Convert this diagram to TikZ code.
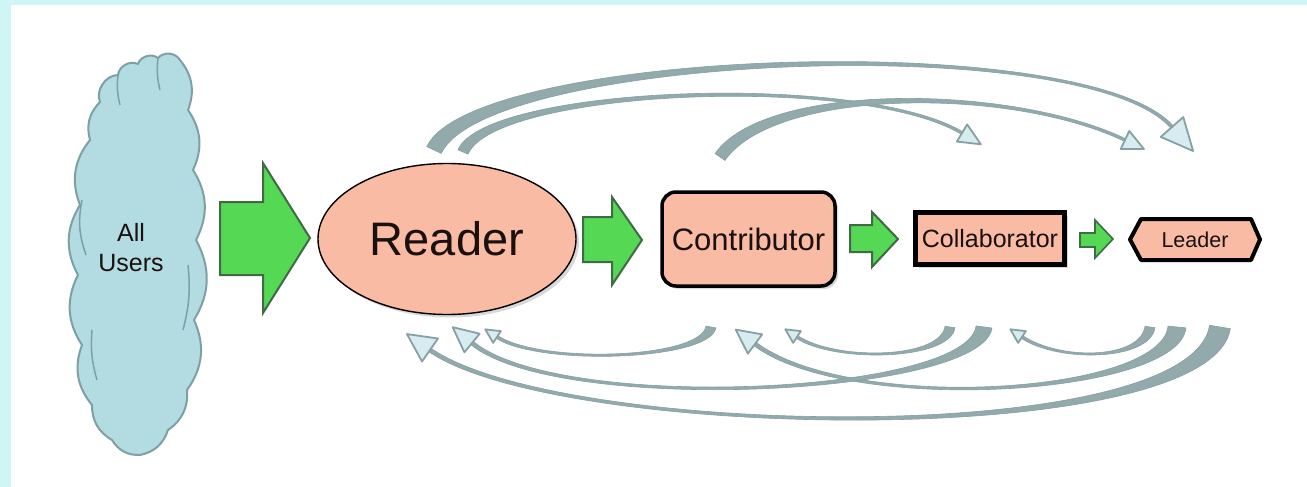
\documentclass[tikz,border=0pt]{standalone}
\usepackage{fontspec}
\setmainfont{Liberation Sans}
\usetikzlibrary{calc,shapes.geometric,shadows}
\definecolor{bgcyan}{HTML}{CFF5F5}
\definecolor{cloudfill}{HTML}{B2DCE2}
\definecolor{cloudline}{HTML}{7E9FA4}
\definecolor{salmon}{HTML}{F9BBA3}
\definecolor{grn}{HTML}{55D955}
\definecolor{grnline}{HTML}{3F6A45}
\definecolor{arcfill}{HTML}{93AAAD}
\definecolor{arcline}{HTML}{86A0A3}
\definecolor{headfill}{HTML}{D6ECF0}
\definecolor{txt}{HTML}{1A1010}
% #1 start, #2 ctrl1, #3 ctrl2, #4 end of shaft, #5 base half width,
% #6 end half width, #7 head length, #8 head half width
\newcommand{\tarrow}[8]{%
  \fill[arcfill,draw=arcline,line width=0.6pt]
    ($#1!#5!90:#2$) .. controls ($#2!#5!-90:#1$) and ($#3!#6!90:#4$) .. ($#4!#6!-90:#3$)
    -- ($#4!#6!90:#3$) .. controls ($#3!#6!-90:#4$) and ($#2!#5!90:#1$) .. ($#1!#5!-90:#2$) -- cycle;
  \draw[headstyle] ($#4!#8!90:#3$) -- ($#4!#7!180:#3$) -- ($#4!#8!-90:#3$) -- cycle;
}
\begin{document}
\begin{tikzpicture}[x=1pt,y=-1pt,
  headstyle/.style={fill=headfill,draw=arcline,line width=1.8pt,line join=round},
  greenarrow/.style={fill=grn,draw=grnline,line width=2pt,line join=miter},
  puff/.style={bend left=30},
  finger/.style={bend left=55},
  stagebox/.style={fill=salmon,draw=black,text=txt,inner sep=0pt,
    drop shadow={shadow xshift=3pt,shadow yshift=-3pt,opacity=0.3}}]
\useasboundingbox (0,0) rectangle (1307,487);
\fill[bgcyan] (0,0) rectangle (1307,487);
\fill[white] (11,5) rectangle (1307,487);

% cloud
\draw[fill=cloudfill,draw=cloudline,line width=2pt,line join=round]
  (90,140) to[puff] (100,102) to[finger] (118,75) to[finger] (138,64) to[finger] (158,58)
  to[finger] (180,60) to[puff] (188,110) to[puff] (193,170) to[puff] (196,240)
  to[puff] (194,320) to[puff] (187,390) to[puff] (168,430) to[puff] (140,455)
  to[puff] (112,440) to[puff] (92,405) to[puff] (82,345) to[puff] (78,275)
  to[puff] (80,205) to[puff] (90,140) -- cycle;
\draw[cloudline,line width=1.5pt] (118,75) to[bend right=10] (120,105);
\draw[cloudline,line width=1.5pt] (158,58) to[bend right=10] (160,90);
\draw[cloudline,line width=1.5pt] (82,200) to[bend right=15] (86,255);
\draw[cloudline,line width=1.5pt] (188,265) to[bend left=10] (183,330);
\draw[cloudline,line width=1.5pt] (92,330) to[bend right=10] (97,380);
\node[align=center, text=txt, inner sep=0pt, font=\fontsize{25}{30}\selectfont] (users) at (131,248) {All\\Users};

% stages
\node[stagebox, ellipse, line width=1.4pt, minimum width=258pt, minimum height=151pt,
  font=\fontsize{47}{50}\selectfont] (reader) at (447,239) {Reader};
\node[stagebox, rectangle, rounded corners=14pt, line width=3.5pt, minimum width=173pt,
  minimum height=94pt, font=\fontsize{31}{34}\selectfont] (contrib) at (748.5,239) {Contributor};
\node[stagebox, rectangle, line width=4.5pt, minimum width=149pt, minimum height=52pt,
  font=\fontsize{25}{28}\selectfont] (collab) at (990,238.5) {Collaborator};
\fill[salmon,draw=black,line width=4pt,line join=round]
  (1130,239.5) -- (1141,219) -- (1251,219) -- (1260,239.5) -- (1251,260) -- (1141,260) -- cycle;
\node[text=txt, inner sep=0pt, font=\fontsize{21.5}{24}\selectfont] (leader) at (1195,239.5) {Leader};

% green block arrows
\draw[greenarrow] (220,202) -- (263,202) -- (263,163) -- (310,238) -- (263,313) -- (263,275) -- (220,275) -- cycle;
\draw[greenarrow] (583,217) -- (612,217) -- (612,197) -- (642,240) -- (612,285) -- (612,262) -- (583,262) -- cycle;
\draw[greenarrow] (850,225) -- (872,225) -- (872,212) -- (898,239) -- (872,267) -- (872,252) -- (850,252) -- cycle;
\draw[greenarrow,line width=1.6pt] (1080,233) -- (1095,233) -- (1095,220) -- (1113,239) -- (1095,258) -- (1095,247) -- (1080,247) -- cycle;

% forward arcs (top)
\coordinate (a1s) at (434,150); \coordinate (a1c) at (480,52);
\coordinate (a1d) at (1085,28); \coordinate (a1e) at (1172,127);
\coordinate (a2s) at (463,152); \coordinate (a2c) at (490,88);
\coordinate (a2d) at (860,72);  \coordinate (a2e) at (962,133);
\coordinate (a3s) at (720,157); \coordinate (a3c) at (770,85);
\coordinate (a3d) at (1010,85); \coordinate (a3e) at (1125,140);
\tarrow{(a1s)}{(a1c)}{(a1d)}{(a1e)}{8pt}{1.6pt}{32pt}{15pt}
\tarrow{(a2s)}{(a2c)}{(a2d)}{(a2e)}{5.5pt}{1.4pt}{22pt}{10pt}
\tarrow{(a3s)}{(a3c)}{(a3d)}{(a3e)}{6pt}{1.4pt}{21pt}{10pt}

% backward arcs (bottom)
\coordinate (b1s) at (711,327); \coordinate (b1c) at (705,360);
\coordinate (b1d) at (540,365); \coordinate (b1e) at (497,337);
\coordinate (b2s) at (950,327); \coordinate (b2c) at (945,360);
\coordinate (b2d) at (835,362); \coordinate (b2e) at (797,337);
\coordinate (b3s) at (1150,327); \coordinate (b3c) at (1145,360);
\coordinate (b3d) at (1060,362); \coordinate (b3e) at (1022,337);
\coordinate (b4s) at (984,327); \coordinate (b4c) at (975,395);
\coordinate (b4d) at (560,415); \coordinate (b4e) at (472,343);
\coordinate (b5s) at (1177,327); \coordinate (b5c) at (1170,395);
\coordinate (b5d) at (850,415); \coordinate (b5e) at (755,344);
\coordinate (b6s) at (1220,327); \coordinate (b6c) at (1200,450);
\coordinate (b6d) at (560,440); \coordinate (b6e) at (430,350);
\tarrow{(b6s)}{(b6c)}{(b6d)}{(b6e)}{10.5pt}{2pt}{28pt}{14pt}
\tarrow{(b5s)}{(b5c)}{(b5d)}{(b5e)}{9pt}{2pt}{24pt}{12pt}
\tarrow{(b4s)}{(b4c)}{(b4d)}{(b4e)}{8pt}{2pt}{25pt}{12pt}
\tarrow{(b1s)}{(b1c)}{(b1d)}{(b1e)}{5pt}{1.5pt}{14pt}{7pt}
\tarrow{(b2s)}{(b2c)}{(b2d)}{(b2e)}{5pt}{1.5pt}{14pt}{7pt}
\tarrow{(b3s)}{(b3c)}{(b3d)}{(b3e)}{5pt}{1.5pt}{14pt}{7pt}
\end{tikzpicture}
\end{document}
